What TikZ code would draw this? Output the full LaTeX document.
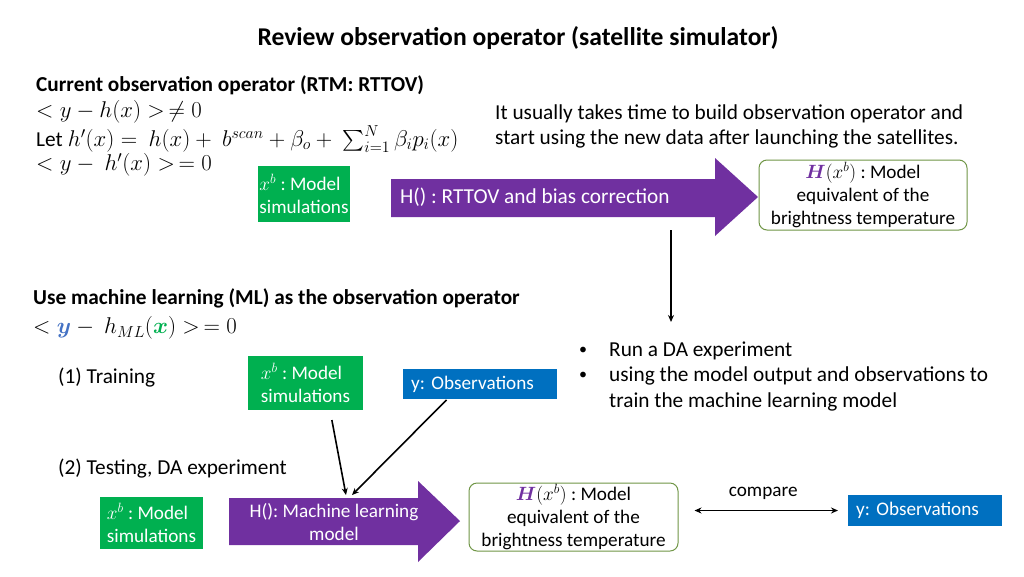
\RequirePackage{fix-cm}
\documentclass[tikz,border=0pt]{standalone}
\usepackage{fontspec}
\setmainfont{Carlito}
\usepackage{amsmath}
\usetikzlibrary{arrows.meta}
\definecolor{simgreen}{RGB}{0,176,80}
\definecolor{hpurple}{RGB}{112,48,160}
\definecolor{obsblue}{RGB}{0,112,192}
\definecolor{boxolive}{RGB}{112,150,70}
\definecolor{yblue}{RGB}{68,114,196}
\frenchspacing

\begin{document}
\begin{tikzpicture}[x=1pt, y=-1pt,
	every node/.style={inner sep=0pt},
	body/.style={anchor=west, font=\fontsize{21.3}{25.5}\selectfont},
	formel/.style={anchor=west, font=\fontsize{22.8}{26}\selectfont},
	head/.style={anchor=west, font=\bfseries\fontsize{21.3}{25.5}\selectfont},
	simbox/.style={fill=simgreen, text=white, align=left, font=\fontsize{19.2}{23}\selectfont},
	obsbox/.style={fill=obsblue, text=white, align=left, inner xsep=8pt, font=\fontsize{19.2}{23}\selectfont},
	hxbox/.style={draw=boxolive, line width=1pt, rounded corners=8pt, align=center, font=\fontsize{19.2}{23}\selectfont},
	hoptext/.style={text=white, font=\fontsize{19.2}{23}\selectfont},
	link/.style={line width=1.6pt, -{Stealth[length=7pt,width=6pt]}}]
	\fill[white] (0,0) rectangle (1024,576);
	\useasboundingbox (0,0) rectangle (1024,576);
	% Titel
	\node[font=\bfseries\fontsize{25.6}{30}\selectfont] (title) at (518,38) {Review observation operator (satellite simulator)};
	% Oberer Teil
	\node[head] (rtmhead) at (36,85) {Current observation operator (RTM: RTTOV)};
	\node[formel] (eq1) at (36,112) {$< y - h(x) > \,\neq 0$};
	\node[formel] (eq2) at (36,139) {{\fontsize{21.3}{25.5}\selectfont Let} $h'(x) = \ h(x) + \ b^{scan} + \beta_o + \ \sum_{i=1}^{N} \beta_i p_i(x)$};
	\node[formel] (eq3) at (36,165) {$< y - \ h'(x) > \,= 0$};
	\node[body] (note1) at (495,114) {It usually takes time to build observation operator and};
	\node[body] (note2) at (495,139) {start using the new data after launching the satellites.};
	\node[simbox, minimum width=92, minimum height=56] (sim1) at (304,194) {$x^b$ : Model\\simulations};
	\fill[hpurple] (391,179) -- (715,179) -- (715,158) -- (758,197) -- (715,236) -- (715,217) -- (391,217) -- cycle;
	\node[hoptext, anchor=west, font=\fontsize{21.3}{25.5}\selectfont] (hop1) at (400,197) {H() : RTTOV and bias correction};
	\node[hxbox, minimum width=208, minimum height=70] (hx1) at (863,195) {$\textcolor{hpurple}{\boldsymbol{H}}(x^b)$ : Model\\equivalent of the\\brightness temperature};
	\coordinate (vtop) at (671,230);
	\coordinate (vbot) at (671,322);
	\draw[link] (vtop) -- (vbot);
	% Unterer Teil
	\node[head] (mlhead) at (33,298) {Use machine learning (ML) as the observation operator};
	\node[formel] (eq4) at (33,328) {$< \textcolor{yblue}{\boldsymbol{y}} - \ h_{ML}(\textcolor{simgreen}{\boldsymbol{x}}) > \,= 0$};
	\node[body, font=\fontsize{16}{20}\selectfont] (dot1) at (579,351) {\textbullet};
	\node[body] (task1) at (609,351) {Run a DA experiment};
	\node[body, font=\fontsize{16}{20}\selectfont] (dot2) at (579,376) {\textbullet};
	\node[body] (task2) at (609,376) {using the model output and observations to};
	\node[body] (task3) at (609,402) {train the machine learning model};
	% Training
	\node[body] (train) at (58,378) {(1) Training};
	\node[simbox, minimum width=115, minimum height=54] (sim2) at (305.5,383) {$x^b$ : Model\\simulations};
	\node[obsbox, minimum height=30, text width=138, anchor=west] (obs1) at (403,384) {y: Observations};
	% Testen
	\node[body] (test) at (58,469) {(2) Testing, DA experiment};
	\node[simbox, minimum width=103, minimum height=52] (sim3) at (151.5,523) {$x^b$ : Model\\simulations};
	\fill[hpurple] (229,498) -- (418,498) -- (418,481) -- (460,521) -- (418,562) -- (418,545) -- (229,545) -- cycle;
	\node[hoptext, align=center] (hop2) at (334,522) {H(): Machine learning\\model};
	\node[hxbox, minimum width=209, minimum height=68] (hx2) at (573.5,517) {$\textcolor{hpurple}{\boldsymbol{H}}(x^b)$ : Model\\equivalent of the\\brightness temperature};
	\node[obsbox, minimum height=31, text width=138, anchor=west] (obs2) at (848,510.5) {y: Observations};
	% Pfeile
	\coordinate (mlin1) at (346,495);
	\coordinate (mlin2) at (352,495);
	\draw[link, shorten <=10pt] ([xshift=24.5pt]sim2.south) -- (mlin1);
	\draw[link, shorten <=1pt] ([xshift=-33pt]obs1.south) -- (mlin2);
	\draw[line width=1.5pt, {Stealth[length=7pt,width=6pt]}-{Stealth[length=7pt,width=6pt]}, shorten <=16pt, shorten >=10pt] (hx2.east |- obs2.west) -- (obs2.west) node[midway, above=10pt, font=\fontsize{19.2}{23}\selectfont] (cmp) {compare};
\end{tikzpicture}
\end{document}
